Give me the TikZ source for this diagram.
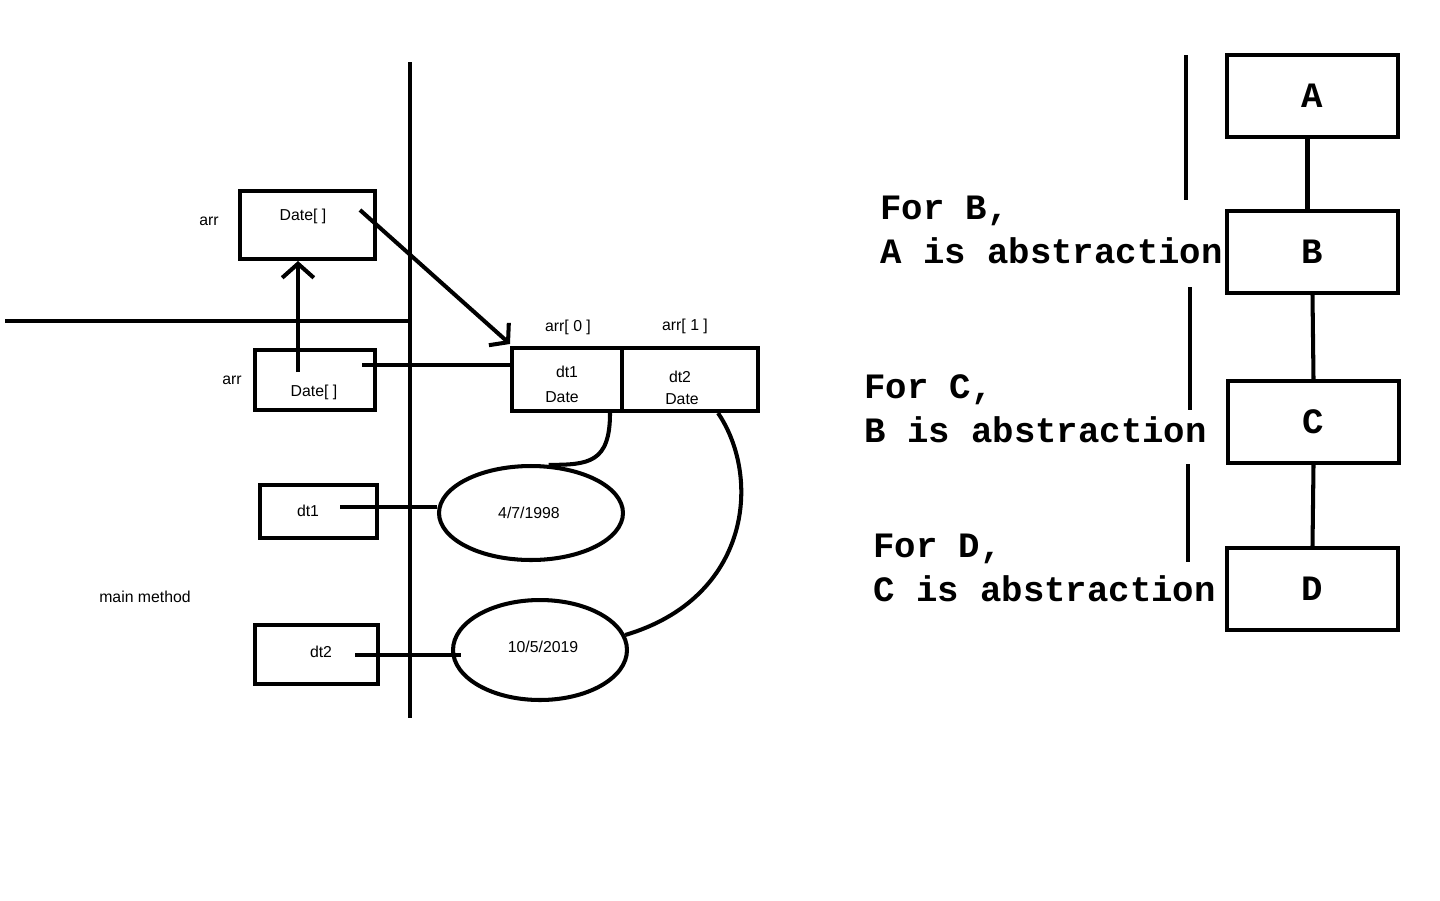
\documentclass[tikz,border=0pt]{standalone}
\usepackage{fontspec}
\setmainfont{Liberation Sans}
\newfontfamily\codefont{Liberation Mono}
\usetikzlibrary{arrows.meta,shapes.geometric}
\tikzset{
	wire/.style={line width=2.3pt},
	memcell/.style={draw, line width=2.3pt, inner sep=0pt},
	heapval/.style={draw, ellipse, line width=2.3pt, inner sep=0pt},
	lbl/.style={inner sep=0pt, font=\fontsize{9}{11}\selectfont},
	level/.style={draw, line width=2.3pt, minimum width=3.42cm, minimum height=1.64cm, inner sep=0pt, font=\codefont\bfseries\fontsize{20.3}{24}\selectfont},
	note/.style={anchor=west, align=left, inner sep=0pt, font=\codefont\bfseries\fontsize{20.3}{25}\selectfont}
}
\begin{document}
\begin{tikzpicture}[x=0.02cm, y=-0.02cm]
			\useasboundingbox (0,0) rectangle (1440,900);
			\draw [line width=2.4pt] (410,62) -- (410,718);
			\draw [line width=2.4pt] (5,321) -- (410,321);
			\node [memcell, minimum width=2.7cm, minimum height=1.36cm] (arrtop) at (307.5,225) {};
			\node [lbl] (arrtoptype) at (303,216) {Date[ ]};
			\node [lbl] (arrtopname) at (209,221) {arr};
			\node [memcell, minimum width=2.4cm, minimum height=1.2cm] (arrlow) at (315,380) {};
			\node [lbl] (arrlowtype) at (314,392) {Date[ ]};
			\node [lbl] (arrlowname) at (232,380) {arr};
			\node [memcell, minimum width=2.2cm, minimum height=1.26cm] (cell0) at (567,379.5) {};
			\node [memcell, minimum width=2.72cm, minimum height=1.26cm] (cell1) at (690,379.5) {};
			\node [lbl] (idx0) at (568,327) {arr[ 0 ]};
			\node [lbl] (idx1) at (685,326) {arr[ 1 ]};
			\node [lbl] (cell0ref) at (567,372) {dt1};
			\node [lbl] (cell0type) at (562,397) {Date};
			\node [lbl] (cell1ref) at (680,377) {dt2};
			\node [lbl] (cell1type) at (682,399) {Date};
			\node [memcell, minimum width=2.34cm, minimum height=1.06cm] (dtone) at (318.5,511.5) {};
			\node [lbl] (dtonename) at (308,511) {dt1};
			\node [memcell, minimum width=2.46cm, minimum height=1.18cm] (dttwo) at (316.5,654.5) {};
			\node [lbl] (dttwoname) at (321,652) {dt2};
			\node [heapval, minimum width=3.68cm, minimum height=1.88cm] (val1) at (531,513) {};
			\node [lbl] (val1txt) at (529,513) {4/7/1998};
			\node [heapval, minimum width=3.48cm, minimum height=2cm] (val2) at (540,650) {};
			\node [lbl] (val2txt) at (543,647) {10/5/2019};
			\node [lbl] (frame) at (145,597) {main method};
			\coordinate (ptr1) at (298,372);
			\coordinate (ptr2) at (360,210);
			\coordinate (ptr3) at (362,365);
			\coordinate (ptr4) at (340,507);
			\coordinate (ptr5) at (355,655);
			\draw [wire, -{Straight Barb[length=8pt, width=18pt]}] (ptr1) -- (ptr1 |- arrtop.south);
			\draw [wire, -{Straight Barb[length=7pt, width=17pt]}] (ptr2) -- ([yshift=0.04cm]cell0.north west);
			\draw [wire] (ptr3) -- (ptr3 -| cell0.west);
			\draw [wire] (ptr4) -- (ptr4 -| val1.west);
			\draw [wire] (ptr5) -- ([xshift=0.2cm]ptr5 -| val2.west);
			\draw [wire] ([xshift=-0.28cm]cell0.south east) .. controls +(0,50) and +(40,0) .. (val1.70);
			\draw [wire] ([xshift=-0.84cm]cell1.south east) .. controls +(44,65) and +(125,-37) .. (val2.10);
			\node [level] (lvA) at (1312.5,96) {A};
			\node [level] (lvB) at (1312.5,252) {B};
			\node [level] (lvC) at (1313.5,422) {C};
			\node [level] (lvD) at (1312.5,589) {D};
			\draw [wire] ([xshift=-0.1cm]lvA.south) -- ([xshift=-0.1cm, yshift=-0.08cm]lvB.north);
			\draw [wire] (lvB.south) -- (lvC.north);
			\draw [wire] (lvC.south) -- (lvD.north);
			\draw [line width=2.4pt] (1186,55) -- (1186,200);
			\draw [line width=2.4pt] (1190,287) -- (1190,410);
			\draw [line width=2.4pt] (1188,464) -- (1188,562);
			\node [note] (noteB) at (880,230) {For B,\\A is abstraction};
			\node [note] (noteC) at (864,409) {For C,\\B is abstraction};
			\node [note] (noteD) at (873,567.5) {For D,\\C is abstraction};
		\end{tikzpicture}
\end{document}
